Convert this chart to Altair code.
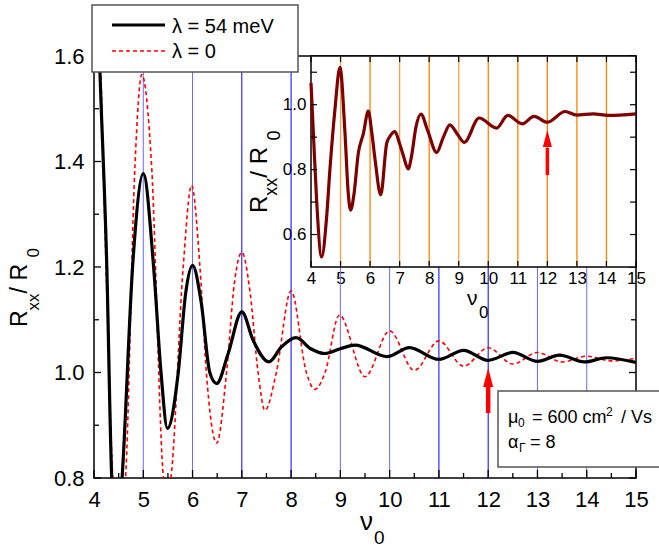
import altair as alt
import pandas as pd

FONT = "Liberation Sans"
W, H = 542, 422

# ---------------- data ----------------
# main panel, lambda = 54 meV (black solid)
nu_54 = [4.00, 4.11, 4.26, 4.36, 4.47, 4.57, 4.79, 5.00, 5.21, 5.36, 5.49, 5.71, 5.86,
         6.00, 6.18, 6.35, 6.49, 6.72, 7.00, 7.23, 7.55, 7.80, 8.10, 8.40, 8.68, 9.00,
         9.30, 9.95, 10.40, 11.00, 11.50, 12.00, 12.50, 13.00, 13.45, 13.95, 14.40, 15.00]
r_54 = [1.95, 1.60, 1.20, 0.80, 0.68, 0.80, 1.21, 1.377, 1.20, 1.00, 0.894, 1.00, 1.15,
        1.203, 1.13, 1.00, 0.979, 1.035, 1.115, 1.061, 1.020, 1.048, 1.066, 1.045, 1.036, 1.045,
        1.052, 1.030, 1.047, 1.025, 1.042, 1.023, 1.038, 1.021, 1.033, 1.020, 1.028, 1.019]

# main panel, lambda = 0 (red dashed)
nu_0 = [4.00, 4.13, 4.26, 4.38, 4.48, 4.64, 4.83, 4.97, 5.17, 5.41, 5.48, 5.56, 5.81,
        5.98, 6.15, 6.28, 6.49, 6.69, 6.85, 7.00, 7.17, 7.33, 7.47, 7.70, 8.00, 8.31,
        8.48, 8.69, 8.98, 9.50, 10.00, 10.50, 11.00, 11.50, 12.00, 12.50, 13.00, 13.50,
        14.00, 14.50, 15.00]
r_0 = [2.00, 1.60, 1.15, 0.80, 0.68, 0.80, 1.39, 1.565, 1.39, 0.80, 0.77, 0.80, 1.20,
       1.355, 1.20, 1.00, 0.866, 1.00, 1.17, 1.228, 1.15, 1.00, 0.928, 1.00, 1.155, 1.00,
       0.968, 1.00, 1.109, 0.992, 1.079, 1.004, 1.060, 1.012, 1.047, 1.016, 1.038, 1.020,
       1.031, 1.022, 1.027]

# inset curve (dark red)
nu_in = [4.00, 4.08, 4.19, 4.36, 4.53, 4.64, 4.81, 4.98, 5.15, 5.26, 5.34, 5.46, 5.60,
         5.77, 5.94, 6.05, 6.17, 6.36, 6.56, 6.67, 6.84, 7.00, 7.12, 7.29, 7.40, 7.55,
         7.72, 7.95, 8.25, 8.48, 8.70, 8.95, 9.19, 9.69, 10.28, 10.66, 11.15, 11.55,
         12.00, 12.60, 12.99, 13.55, 14.06, 15.00]
r_in = [1.067, 0.913, 0.706, 0.531, 0.655, 0.80, 0.985, 1.115, 0.913, 0.728, 0.675, 0.728, 0.85,
        0.91, 0.98, 0.92, 0.83, 0.722, 0.88, 0.902, 0.917, 0.88, 0.845, 0.802, 0.84, 0.93,
        0.971, 0.92, 0.853, 0.90, 0.938, 0.91, 0.884, 0.959, 0.928, 0.967, 0.941, 0.964,
        0.946, 0.979, 0.968, 0.972, 0.967, 0.972]

series_names = ["λ = 54 meV", "λ = 0"]
series_colors = ["#000000", "#ff0000"]

main_x_domain = [4, 15]
main_y_domain = [0.8, 1.6]
inset_y_domain = [0.5, 1.15]

main_x_ticks = list(range(4, 16))
main_x_minor = [4.5, 5.5, 6.5, 7.5, 8.5, 9.5, 10.5, 11.5, 12.5, 13.5, 14.5]
main_y_ticks = [0.8, 1.0, 1.2, 1.4, 1.6]
main_y_minor = [0.9, 1.1, 1.3, 1.5]
inset_x_ticks = list(range(4, 16))
inset_y_ticks = [0.6, 0.8, 1.0]
inset_y_minor = [0.7, 0.9, 1.1]

blue_dark = [7, 8, 11, 12]
blue_light = [5, 6, 9, 10, 13, 14]
orange_dark = [6, 8, 10, 11, 12, 13, 14]
orange_light = [5, 7, 9]

arrow_nu = [12]
main_arrow = {"tail": [0.923], "base": [0.975], "head": [0.9905]}
inset_arrow = {"tail": [0.783], "base": [0.867], "head": [0.896]}

# ---------------- scales & axes ----------------
xs = alt.Scale(domain=main_x_domain, nice=False, zero=False)
ys = alt.Scale(domain=main_y_domain, nice=False, zero=False)
ax_x = alt.Axis(values=main_x_ticks, format="d", ticks=False, tickSize=0, domain=False, grid=False,
                labelFont=FONT, labelFontSize=22, labelPadding=11, labelFlush=False,
                labelOverlap=False, labelColor="black", title=None, orient="bottom")
ax_y = alt.Axis(values=main_y_ticks, format=".1f", ticks=False, tickSize=0, domain=False, grid=False,
                labelFont=FONT, labelFontSize=22, labelPadding=10, labelFlush=False,
                labelOverlap=False, labelColor="black", title=None, orient="left")

xs_in = alt.Scale(domain=main_x_domain, range=[217, W], nice=False, zero=False)
ys_in = alt.Scale(domain=inset_y_domain, range=[211, 0], nice=False, zero=False)
ax_xi = alt.Axis(values=inset_x_ticks, format="d", ticks=False, tickSize=0, domain=False, grid=False,
                 labelFont=FONT, labelFontSize=17, labelPadding=3, labelFlush=False,
                 labelOverlap=False, labelColor="black", title=None, orient="bottom", offset=-211)
ax_yi = alt.Axis(values=inset_y_ticks, format=".1f", ticks=False, tickSize=0, domain=False, grid=False,
                 labelFont=FONT, labelFontSize=17, labelPadding=5, labelFlush=False,
                 labelOverlap=False, labelColor="black", title=None, orient="left", offset=-217)


def X(f):
    return alt.X(f"{f}:Q", scale=xs, axis=ax_x)


def Y(f):
    return alt.Y(f"{f}:Q", scale=ys, axis=ax_y)


def XI(f):
    return alt.X(f"{f}:Q", scale=xs_in, axis=ax_xi)


def YI(f):
    return alt.Y(f"{f}:Q", scale=ys_in, axis=ax_yi)


one = pd.DataFrame({"k": [0]})


def txt(s, x, y, size, angle=0, align="left"):
    return alt.Chart(one).mark_text(text=s, font=FONT, fontSize=size, angle=angle, align=align,
                                    baseline="alphabetic", color="black").encode(
        x=alt.value(x), y=alt.value(y))


def vrules(vals, color, scaleX):
    return alt.Chart(pd.DataFrame({"v": vals})).mark_rule(color=color, strokeWidth=1).encode(x=scaleX("v"))


def xticks(vals, fX, y0, y1, w=1.3):
    return alt.Chart(pd.DataFrame({"v": vals})).mark_rule(color="black", strokeWidth=w).encode(
        x=fX("v"), y=alt.value(y0), y2=alt.value(y1))


def yticks(vals, fY, x0, x1, w=1.3):
    return alt.Chart(pd.DataFrame({"v": vals})).mark_rule(color="black", strokeWidth=w).encode(
        y=fY("v"), x=alt.value(x0), x2=alt.value(x1))


arrow_shape = "M0,-1L0.53,1L-0.53,1Z"

# ---------------- main panel ----------------
df54 = pd.DataFrame({"nu": nu_54, "r": r_54})
df0 = pd.DataFrame({"nu": nu_0, "r": r_0})

red_line = alt.Chart(df0).mark_line(interpolate="monotone", clip=True, color=series_colors[1],
                                    strokeWidth=1.6, strokeDash=[4, 3]).encode(x=X("nu"), y=Y("r"))
black_line = alt.Chart(df54).mark_line(interpolate="monotone", clip=True, color=series_colors[0],
                                       strokeWidth=3.2).encode(x=X("nu"), y=Y("r"))

dfa = pd.DataFrame({"nu": arrow_nu, **main_arrow})
arrow_shaft = alt.Chart(dfa).mark_rule(color="#ff0000", strokeWidth=4.5).encode(
    x=X("nu"), y=Y("tail"), y2="base:Q")
arrow_head = alt.Chart(dfa).mark_point(shape=arrow_shape, size=361, filled=True, opacity=1,
                                       color="#ff0000", strokeWidth=0).encode(x=X("nu"), y=Y("head"))

legend_box = alt.Chart(one).mark_rect(fill="white", stroke="#555555", strokeWidth=1.5).encode(
    x=alt.value(-2), x2=alt.value(204), y=alt.value(-51), y2=alt.value(16))
legend_black = alt.Chart(one).mark_rule(color=series_colors[0], strokeWidth=3.2).encode(
    x=alt.value(18), x2=alt.value(71), y=alt.value(-31))
legend_red = alt.Chart(one).mark_rule(color=series_colors[1], strokeWidth=1.6, strokeDash=[4, 3]).encode(
    x=alt.value(18), x2=alt.value(71), y=alt.value(-5))

note_box = alt.Chart(one).mark_rect(fill="white", stroke="#555555", strokeWidth=1.5).encode(
    x=alt.value(404), x2=alt.value(575), y=alt.value(335), y2=alt.value(411))

main_layers = [
    vrules(blue_light, "#6a6aff", X),
    vrules(blue_dark, "#0000ff", X),
    red_line,
    black_line,
    arrow_shaft,
    arrow_head,
    xticks(main_x_ticks, X, H, H - 8),
    xticks(main_x_minor, X, H, H - 5),
    yticks(main_y_ticks, Y, 0, 7),
    yticks(main_y_minor, Y, 0, 5),
    yticks(main_y_ticks, Y, W, W - 7),
    yticks(main_y_minor, Y, W, W - 5),
    legend_box,
    legend_black,
    legend_red,
    txt(series_names[0], 78, -23, 20),
    txt(series_names[1], 78, 2, 20),
    note_box,
    # annotation text
    txt("μ", 414, 367, 18), txt("0", 424, 371, 12), txt("= 600 cm", 438, 367, 18),
    txt("2", 512, 360, 12), txt("/ Vs", 527, 367, 18),
    txt("α", 414, 392, 18), txt("Γ", 425, 396, 12), txt("= 8", 436, 392, 18),
    # main axis titles
    txt("ν", 266, 474, 26), txt("0", 280, 488, 19),
    txt("R", -67, 271, 23, angle=270), txt("xx", -55, 254.4, 17, angle=270),
    txt(" / R", -67, 237.4, 23, angle=270), txt("0", -55, 201.6, 17, angle=270),
    # inset axis titles
    txt("ν", 373, 249, 21), txt("0", 385, 262, 17),
    txt("R", 173, 157, 24, angle=270), txt("xx", 183, 139.7, 18, angle=270),
    txt(" / R", 173, 121.7, 24, angle=270), txt("0", 186, 84.4, 18, angle=270),
]
main = alt.layer(*main_layers)

# ---------------- inset ----------------
df_frame = pd.DataFrame({"x0": [main_x_domain[0]], "x1": [main_x_domain[1]],
                         "y0": [inset_y_domain[0]], "y1": [inset_y_domain[1]]})
inset_bg = alt.Chart(df_frame).mark_rect(fill="white", stroke="black", strokeWidth=1.5).encode(
    x=XI("x0"), x2="x1:Q", y=YI("y0"), y2="y1:Q")


def orules(vals, color):
    d = pd.DataFrame({"v": vals, "lo": inset_y_domain[0], "hi": inset_y_domain[1]})
    return alt.Chart(d).mark_rule(color=color, strokeWidth=1.3).encode(x=XI("v"), y=YI("lo"), y2="hi:Q")


dfi = pd.DataFrame({"nu": nu_in, "r": r_in})
inset_line = alt.Chart(dfi).mark_line(interpolate="monotone", color="#7f0000", strokeWidth=3.2).encode(
    x=XI("nu"), y=YI("r"))

dfai = pd.DataFrame({"nu": arrow_nu, **inset_arrow})
i_shaft = alt.Chart(dfai).mark_rule(color="#ff0000", strokeWidth=3.5).encode(
    x=XI("nu"), y=YI("tail"), y2="base:Q")
i_head = alt.Chart(dfai).mark_point(shape=arrow_shape, size=289, filled=True, opacity=1,
                                    color="#ff0000", strokeWidth=0).encode(x=XI("nu"), y=YI("head"))

inset_layers = [
    inset_bg,
    orules(orange_light, "#ffa040"),
    orules(orange_dark, "#ff8000"),
    inset_line,
    i_shaft,
    i_head,
    xticks(inset_x_ticks, XI, 211, 205, 1.2),
    xticks(inset_x_ticks, XI, 0, 6, 1.2),
    yticks(inset_y_ticks + inset_y_minor, YI, 217, 223, 1.2),
    yticks(inset_y_ticks + inset_y_minor, YI, W, W - 6, 1.2),
]
inset = alt.layer(*inset_layers)

chart = alt.layer(main, inset).resolve_scale(x="independent", y="independent").properties(
    width=W, height=H,
    padding={"left": 94, "top": 56, "right": 23, "bottom": 72},
    autosize=alt.AutoSizeParams(type="none"),
    background="white",
).configure_view(stroke="black", strokeWidth=1.5)

chart.save("out.html", embed_options={"renderer": "svg", "actions": False})
